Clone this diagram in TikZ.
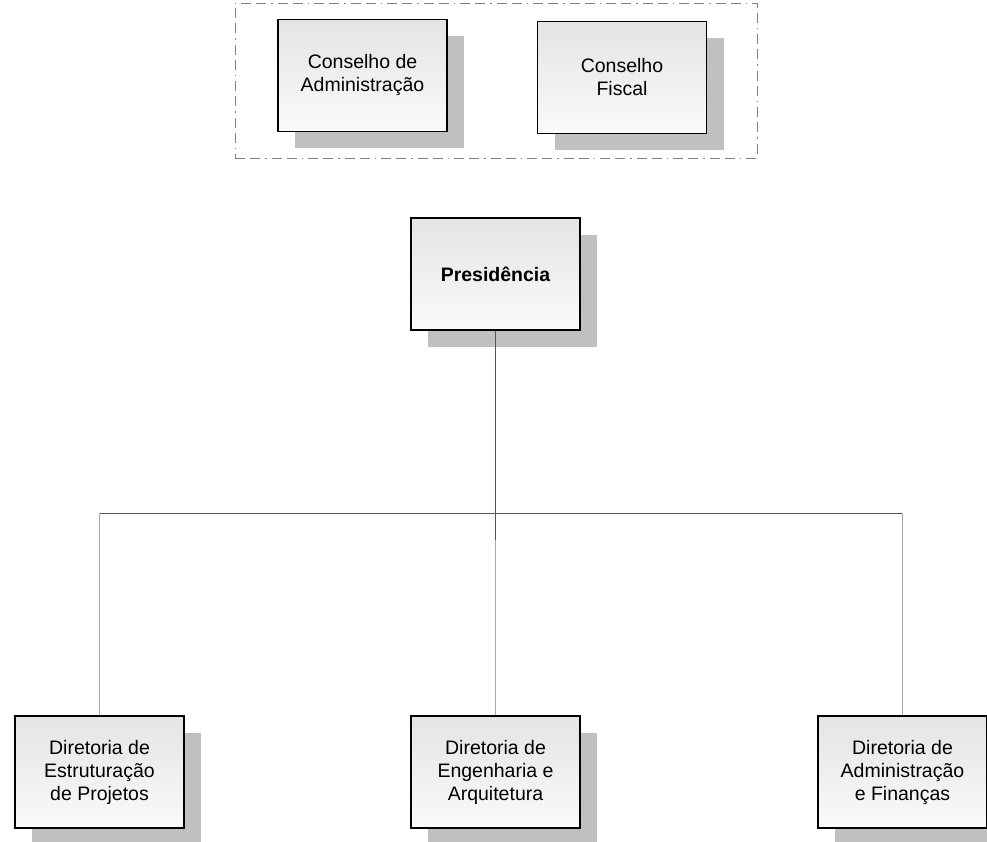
\documentclass[tikz,border=0pt]{standalone}
\usepackage{fontspec}
\setmainfont{Liberation Sans}
\usetikzlibrary{shadows}
\definecolor{shadowgray}{HTML}{C0C0C0}
\definecolor{boxtop}{HTML}{E4E4E4}
\definecolor{boxbot}{HTML}{FAFAFA}
\definecolor{busgray}{HTML}{555555}
\definecolor{dropgray}{HTML}{A8A8A8}
\definecolor{dashgray}{HTML}{808080}
\tikzset{
  orgbox/.style={draw=black, line width=1.5pt, top color=boxtop, bottom color=boxbot,
    minimum width=169pt, minimum height=112pt, inner sep=0pt, align=center,
    font=\fontsize{19.5}{23}\selectfont,
    drop shadow={shadow xshift=17pt, shadow yshift=-17pt, fill=shadowgray, opacity=1}},
  groupbox/.style={draw=dashgray, line width=0.8pt, minimum width=522pt, minimum height=155pt,
    inner sep=0pt, dash pattern=on 10pt off 5pt on 10pt off 5pt on 1.5pt off 5pt},
  busline/.style={draw=busgray, line width=1pt},
  dropline/.style={draw=dropgray, line width=1pt}
}
\begin{document}
\begin{tikzpicture}[x=1pt,y=1pt]
\useasboundingbox (0,0) rectangle (987,-842);
\node[groupbox] (grp) at (496,-80.5) {};
\node[orgbox] (ca) at (362.5,-75.5) {Conselho de\\Administração};
\node[orgbox] (cf) at (622,-77.5) {Conselho\\Fiscal};
\node[orgbox] (pres) at (495.5,-274) {\bfseries Presidência};
\node[orgbox] (d1) at (99.5,-772) {Diretoria de\\Estruturação\\ de Projetos};
\node[orgbox] (d2) at (495.5,-772) {Diretoria de\\Engenharia e\\Arquitetura};
\node[orgbox] (d3) at (902.5,-772) {Diretoria de\\Administração\\e Finanças};
\coordinate (bus) at (495.5,-513);
\coordinate (busend) at (495.5,-540);
\draw[busline] (pres.south) -- (bus);
\draw[busline] (d1.north |- bus) -- (d3.north |- bus);
\draw[dropline] (d1.north |- bus) -- (d1.north);
\draw[dropline] (busend) -- (d2.north);
\draw[busline] (bus) -- (busend);
\draw[dropline] (d3.north |- bus) -- (d3.north);
\end{tikzpicture}
\end{document}
